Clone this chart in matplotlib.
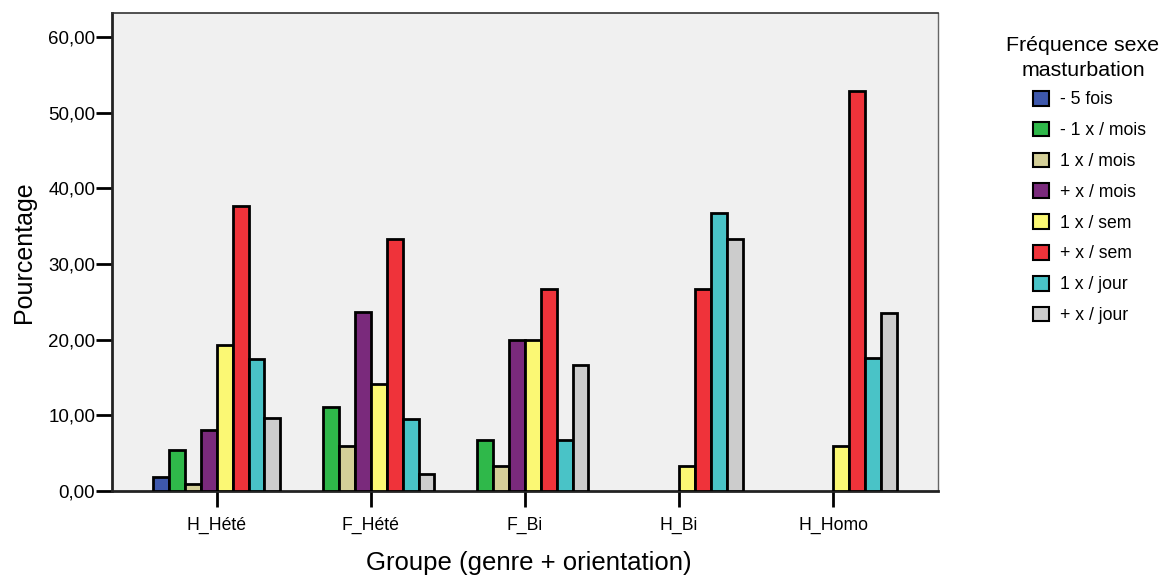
import numpy as np
import matplotlib
matplotlib.use("Agg")
import matplotlib.pyplot as plt
from matplotlib.patches import Patch

plt.rcParams['font.family'] = ['Liberation Sans', 'DejaVu Sans']

groups = ["H_Hété", "F_Hété", "F_Bi", "H_Bi", "H_Homo"]
freq_labels = ["- 5 fois", "- 1 x / mois", "1 x / mois", "+ x / mois",
               "1 x / sem", "+ x / sem", "1 x / jour", "+ x / jour"]
freq_colors = ["#3e58ac", "#2fb84a", "#d4cf98", "#7a2a7c",
               "#fbf874", "#ef333a", "#49c3c7", "#cccccc"]

# pourcentage par groupe (une liste par modalité)
moins_5_fois = [1.9, 0.0, 0.0, 0.0, 0.0]
moins_1_mois = [5.4, 11.1, 6.7, 0.0, 0.0]
un_mois = [0.9, 5.9, 3.3, 0.0, 0.0]
plus_mois = [8.0, 23.7, 20.0, 0.0, 0.0]
un_sem = [19.3, 14.1, 20.0, 3.3, 5.9]
plus_sem = [37.7, 33.3, 26.7, 26.7, 52.9]
un_jour = [17.5, 9.5, 6.7, 36.7, 17.6]
plus_jour = [9.6, 2.2, 16.7, 33.3, 23.5]

series = [moins_5_fois, moins_1_mois, un_mois, plus_mois,
          un_sem, plus_sem, un_jour, plus_jour]

fig = plt.figure(figsize=(11.69, 5.79), dpi=100)
ax = fig.add_axes([0.0958, 0.152, 0.7066, 0.8255])
ax.set_facecolor("#f0f0f0")

x = np.arange(len(groups))
w = 0.103
n = len(series)
for i, vals in enumerate(series):
    vals = np.array(vals)
    pos = x + (i - (n - 1) / 2) * w
    mask = vals > 0
    ax.bar(pos[mask], vals[mask], width=w, color=freq_colors[i],
           edgecolor="black", linewidth=2, zorder=3)

ax.set_xlim(-0.68, 4.68)
ax.set_ylim(0, 63.2)
yt = np.arange(0, 61, 10)
ax.set_yticks(yt)
ax.set_yticklabels([("%.2f" % v).replace(".", ",") for v in yt])
ax.set_xticks(x)
ax.set_xticklabels(groups)
ax.tick_params(axis="y", direction="out", length=11.5, width=2, labelsize=13.5, pad=0.5)
ax.tick_params(axis="x", direction="out", length=11.5, width=2, labelsize=12.7, pad=7)

for s in ["left", "bottom"]:
    ax.spines[s].set_linewidth(2)
    ax.spines[s].set_color("#222222")
ax.spines["top"].set_linewidth(1.2)
ax.spines["top"].set_color("#333333")
ax.spines["right"].set_linewidth(1)
ax.spines["right"].set_color("#666666")

ax.set_ylabel("Pourcentage", fontsize=18)
ax.yaxis.set_label_coords(-0.092, 0.5)
ax.set_xlabel("Groupe (genre + orientation)", fontsize=18.5)
ax.xaxis.set_label_coords(0.505, -0.125)

fig.text(1083 / 1169, 1 - 58 / 579, "Fréquence sexe\nmasturbation",
         ha="center", va="center", multialignment="center",
         fontsize=15.4, linespacing=1.35)

handles = [Patch(facecolor=c, edgecolor="black", linewidth=1.5) for c in freq_colors]
fig.legend(handles, freq_labels, loc="upper left",
           bbox_to_anchor=(1033 / 1169, 1 - 91 / 579), frameon=False,
           borderpad=0, borderaxespad=0,
           fontsize=12.7, handlelength=0.9, handleheight=0.9,
           labelspacing=0.76, handletextpad=0.62)

fig.savefig("out.png", dpi=100)
